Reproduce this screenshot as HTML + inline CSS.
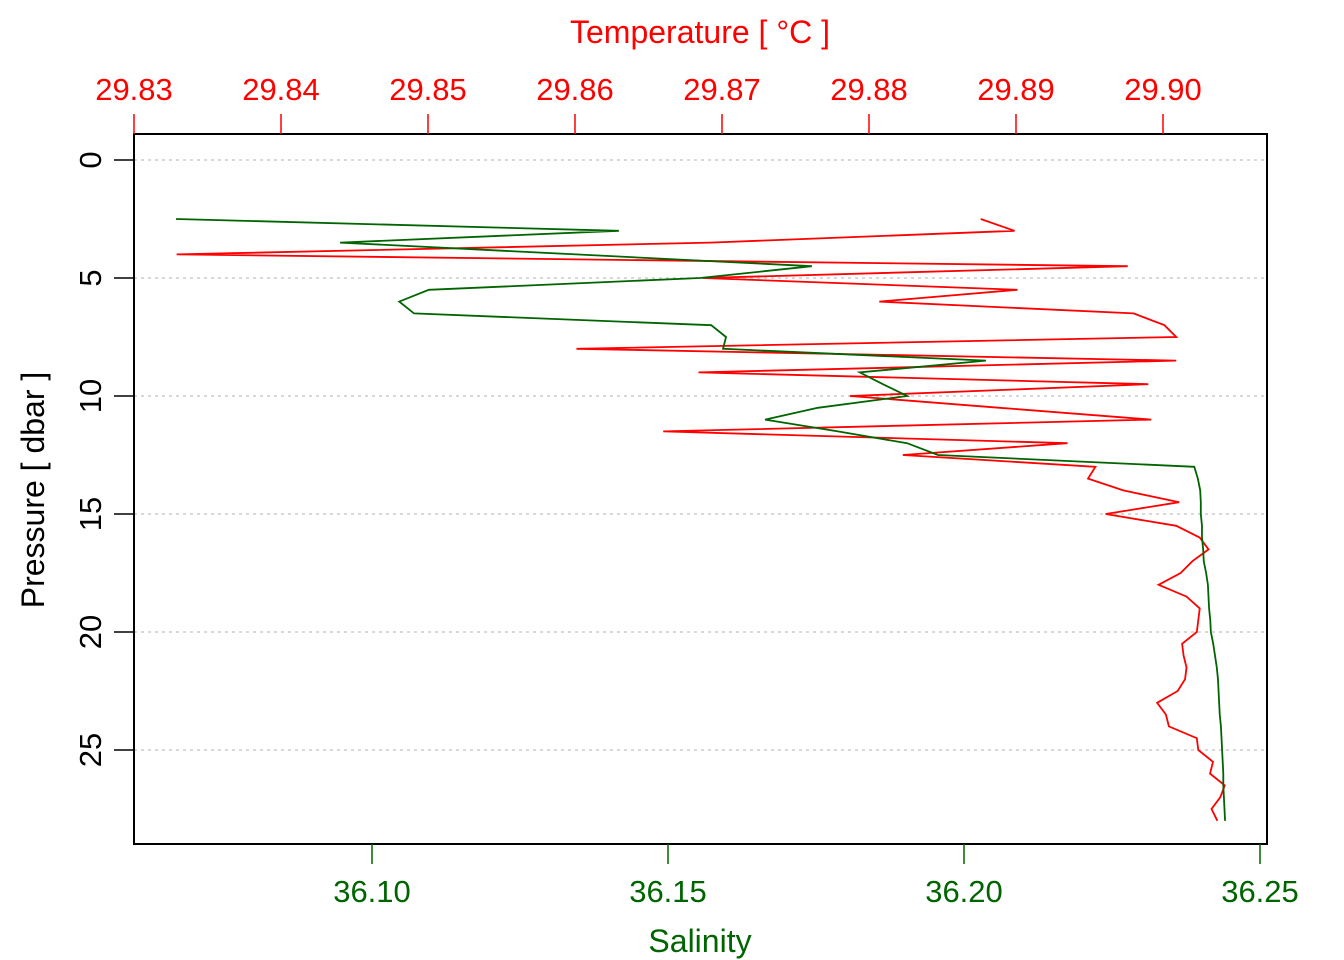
<!DOCTYPE html>
<html><head><meta charset="utf-8"><style>
html,body{margin:0;padding:0;background:#fff;}
svg{display:block;font-family:"Liberation Sans",sans-serif;}
</style></head><body>
<svg id="chart" width="1344" height="960"></svg>
<script>
const pressure=[2.5,3,3.5,4,4.5,5,5.5,6,6.5,7,7.5,8,8.5,9,9.5,10,10.5,11,11.5,12,12.5,13,13.5,14,14.5,15,15.5,16,16.5,17,17.5,18,18.5,19,19.5,20,20.5,21,21.5,22,22.5,23,23.5,24,24.5,25,25.5,26,26.5,27,27.5,28];
const temperature=[29.8876,29.8899,29.8692,29.8329,29.8976,29.8687,29.8901,29.8807,29.8980,29.9001,29.9009,29.8601,29.9009,29.8684,29.8990,29.8787,29.8889,29.8992,29.8660,29.8935,29.8823,29.8954,29.8949,29.8973,29.9011,29.8961,29.9009,29.9025,29.9031,29.9020,29.9012,29.8997,29.9016,29.9025,29.9024,29.9023,29.9013,29.9014,29.9016,29.9015,29.9010,29.8996,29.9002,29.9004,29.9023,29.9024,29.9034,29.9032,29.9042,29.9039,29.9033,29.9037];
const salinity=[36.0669,36.1417,36.0946,36.1345,36.1743,36.1554,36.1096,36.1046,36.1071,36.1573,36.1598,36.1593,36.2037,36.1824,36.1863,36.1904,36.1753,36.1664,36.1787,36.1904,36.1956,36.2389,36.2395,36.2399,36.2400,36.2400,36.2402,36.2402,36.2404,36.2405,36.2409,36.2412,36.2413,36.2414,36.2416,36.2417,36.2421,36.2424,36.2427,36.2429,36.2430,36.2431,36.2432,36.2434,36.2435,36.2436,36.2437,36.2438,36.2438,36.2439,36.2440,36.2441];
const tempTicks=[29.83,29.84,29.85,29.86,29.87,29.88,29.89,29.90];
const tempTickLabels=["29.83","29.84","29.85","29.86","29.87","29.88","29.89","29.90"];
const salTicks=[36.10,36.15,36.20,36.25];
const salTickLabels=["36.10","36.15","36.20","36.25"];
const presTicks=[0,5,10,15,20,25];
const presTickLabels=["0","5","10","15","20","25"];

const L=134,R=1267,T=134,B=844;
const xT=v=>134+(v-29.83)*14700;
const xS=v=>372+(v-36.10)*5920;
const yP=v=>160+v*23.6;
const NS="http://www.w3.org/2000/svg";
const svg=document.getElementById('chart');
function mk(tag,attrs,text){const e=document.createElementNS(NS,tag);for(const k in attrs)e.setAttribute(k,attrs[k]);if(text!==undefined)e.textContent=text;svg.appendChild(e);return e;}

presTicks.forEach((p,i)=>{
  const g=mk('line',{x1:L,x2:R,y1:yP(p),y2:yP(p),stroke:'#cccccc','stroke-width':1.5,'stroke-dasharray':'3,4'});
  
  
});
const tl=mk('polyline',{points:pressure.map((p,i)=>xT(temperature[i])+','+yP(p)).join(' '),fill:'none',stroke:'#ff0000','stroke-width':1.8});


const sl=mk('polyline',{points:pressure.map((p,i)=>xS(salinity[i])+','+yP(p)).join(' '),fill:'none',stroke:'#006400','stroke-width':1.8});


const bx=mk('rect',{x:L,y:T,width:R-L,height:B-T,fill:'none',stroke:'#000','stroke-width':2});


tempTicks.forEach((v,i)=>{
  const x=xT(v);
  mk('line',{x1:x,x2:x,y1:T,y2:T-20,stroke:'#ff0000','stroke-width':1.5});
  const t=mk('text',{x:x,y:100,'text-anchor':'middle','font-size':31,fill:'#ff0000'},tempTickLabels[i]);
  
  
});
const tt=mk('text',{x:700,y:43,'text-anchor':'middle','font-size':32,fill:'#ff0000'},'Temperature [ °C ]');


salTicks.forEach((v,i)=>{
  const x=xS(v);
  mk('line',{x1:x,x2:x,y1:B,y2:B+20,stroke:'#006400','stroke-width':1.5});
  const t=mk('text',{x:x,y:902,'text-anchor':'middle','font-size':31,fill:'#006400'},salTickLabels[i]);
  
  
});
const st=mk('text',{x:700,y:952,'text-anchor':'middle','font-size':32,fill:'#006400'},'Salinity');


presTicks.forEach((v,i)=>{
  const y=yP(v);
  mk('line',{x1:L,x2:L-20,y1:y,y2:y,stroke:'#000','stroke-width':1.5});
  const t=mk('text',{x:101,y:y,'text-anchor':'middle','font-size':31,fill:'#000',transform:'rotate(-90 101 '+y+')'},presTickLabels[i]);
  
  
});
const pt=mk('text',{x:44,y:490,'text-anchor':'middle','font-size':32,fill:'#000',transform:'rotate(-90 44 490)'},'Pressure [ dbar ]');


</script>
</body></html>
